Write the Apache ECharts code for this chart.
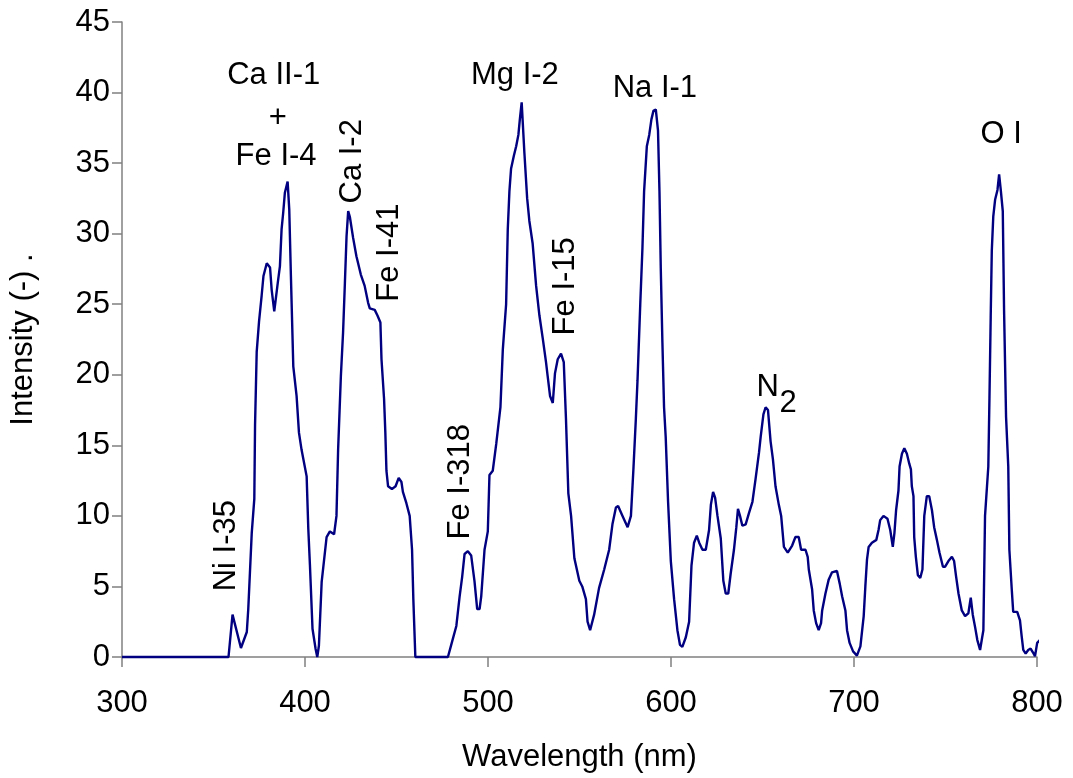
<!DOCTYPE html>
<html><head><meta charset="utf-8">
<script src="https://cdn.jsdelivr.net/npm/echarts@6/dist/echarts.min.js"></script>
<style>html,body{margin:0;padding:0;background:#fff}#c{width:1073px;height:778px}</style>
</head><body><div id="c"></div>
<script>
const wavelength = [300,358.2,360.4,365.0,368.2,369.0,370.9,372.3,372.7,373.6,374.9,376.3,377.3,379.1,380.9,381.8,383.2,385.1,386.3,387.2,388.1,389.0,390.5,391.4,392.3,393.6,395.4,396.7,398.1,400.9,401.8,402.7,404.1,405.8,406.7,407.6,409.1,411.8,413.6,415.9,417.2,418.1,419.6,420.8,421.8,422.7,423.6,424.5,426.3,428.1,430.5,432.6,434.5,435.4,438.1,439.6,441.2,441.8,443.2,443.9,444.5,445.4,447.5,449.5,451.2,452.7,453.5,455.4,457.2,458.5,459.2,460.3,478.1,479.9,482.7,484.5,485.9,487.2,489.0,490.8,492.6,494.1,495.4,496.3,498.1,499.9,500.8,502.6,504.5,506.8,508.1,509.9,510.8,511.7,512.6,514.1,515.4,516.6,517.4,518.4,519.9,521.4,522.6,524.4,526.3,528.1,529.9,531.7,532.6,533.9,535.4,536.6,538.1,539.9,541.4,542.6,543.9,545.4,547.2,549.9,551.5,553.5,554.4,555.8,558.0,560.7,563.5,566.2,568.0,569.9,571.1,573.5,576.3,578.1,579.5,580.8,581.7,583.2,584.4,585.3,586.8,588.1,589.3,590.4,591.7,592.9,593.7,594.4,595.3,596.2,597.1,598.4,599.9,601.7,603.5,604.9,606.2,608.1,609.9,611.2,612.6,614.1,615.4,617.2,619.0,620.8,621.8,623.0,624.1,625.4,627.2,628.6,629.9,631.3,632.6,634.4,635.7,636.6,637.7,639.0,640.8,642.6,644.5,646.2,648.1,649.0,650.5,651.7,653.0,654.4,655.7,657.1,658.9,660.2,661.7,663.8,666.2,668.0,669.8,671.1,673.5,674.7,675.3,677.1,678.0,679.3,680.7,682.0,682.6,684.4,686.2,688.0,690.7,692.2,693.5,695.3,696.2,697.6,699.5,701.6,703.5,705.3,706.2,707.1,708.0,709.8,712.2,713.4,714.3,716.1,718.3,719.8,721.2,722.1,723.0,724.3,724.9,726.2,727.5,728.9,730.2,731.1,731.6,732.5,732.9,733.8,734.9,736.2,737.4,738.4,739.8,741.1,742.6,743.8,745.3,746.7,748.6,749.8,751.6,753.5,754.7,755.8,757.1,758.9,760.7,762.5,763.8,764.9,766.2,767.4,768.9,769.8,770.7,771.6,773.4,774.0,774.7,775.3,776.1,777.1,778.4,779.3,780.2,781.3,782.0,783.1,784.3,784.9,786.2,787.0,789.2,790.7,791.6,792.5,793.8,795.2,796.5,797.9,798.9,800.1,801.6];
const intensity = [0,0,3.0,0.64,1.77,3.4,8.8,11.2,16.4,21.6,23.8,25.6,27.0,27.9,27.6,26.0,24.5,26.5,27.7,30.3,31.5,32.9,33.7,31.7,27.0,20.6,18.5,15.9,14.7,12.8,9.1,6.5,2.0,0.57,0,0.8,5.3,8.5,8.9,8.7,10.0,14.7,19.9,23.0,26.5,29.8,31.6,31.2,29.7,28.4,27.1,26.3,25.1,24.7,24.6,24.2,23.7,21.1,18.3,15.9,13.2,12.1,11.9,12.1,12.7,12.4,11.7,10.9,10.0,7.6,4.1,0,0,0.86,2.2,4.3,5.7,7.3,7.5,7.2,5.4,3.4,3.4,4.3,7.6,8.9,12.9,13.2,15.1,17.7,21.8,25.0,30.3,33.0,34.6,35.5,36.2,37.0,38.1,39.3,35.7,32.5,30.9,29.3,26.3,24.2,22.6,20.9,19.9,18.5,18.0,20.1,21.1,21.5,20.9,16.9,11.6,10.0,7.0,5.4,5.0,4.1,2.5,1.9,3.0,4.9,6.2,7.6,9.4,10.6,10.7,10.0,9.2,10.0,13.4,16.9,19.6,25.0,29.0,33.0,36.2,37.0,38.1,38.7,38.8,37.3,33.0,27.6,22.3,17.7,15.6,11.0,6.8,4.1,1.9,0.86,0.72,1.4,2.5,6.5,8.1,8.6,8.1,7.6,7.6,9.0,10.8,11.7,11.3,10.0,8.4,5.4,4.5,4.5,5.9,7.6,9.2,10.5,10.0,9.3,9.4,10.2,11.0,12.6,14.5,15.6,17.2,17.7,17.5,15.3,14.0,12.1,10.8,10.0,7.8,7.4,7.9,8.5,8.5,7.6,7.6,7.1,6.2,4.8,3.3,2.4,1.9,2.4,3.3,4.5,5.5,6.0,6.1,5.2,4.3,3.3,1.9,1.0,0.4,0.1,0.75,2.9,5.0,6.9,7.8,8.1,8.3,9.0,9.7,10.0,9.8,9.0,7.8,8.8,10.4,11.8,13.5,14.4,14.8,14.4,13.7,13.3,12.1,11.4,8.5,7.1,5.8,5.6,6.2,10.0,11.4,11.4,10.4,9.2,8.3,7.4,6.4,6.4,6.8,7.1,6.8,5.7,4.5,3.3,2.9,3.1,4.2,3.0,2.1,1.2,0.5,1.2,1.9,10.0,13.5,18.2,24.1,28.8,31.2,32.4,33.1,34.2,33.1,31.6,24.6,17.0,13.5,7.6,4.8,3.2,3.2,2.6,1.5,0.5,0.24,0.5,0.6,0.3,0.05,1.0,1.2];
const xTicks = [300,400,500,600,700,800];
const yTicks = [0,5,10,15,20,25,30,35,40,45];
// annotation anchors in data coordinates (wavelength, intensity), rotation in degrees
const annotations = [
  {text:'Ca II-1', wl:382.9, val:41.18, rot:0},
  {text:'+', wl:385.1, val:38.2, rot:0},
  {text:'Fe I-4', wl:384.2, val:35.45, rot:0},
  {text:'Ca I-2', wl:425.7, val:35.13, rot:90},
  {text:'Fe I-41', wl:445.9, val:28.66, rot:90},
  {text:'Ni I-35', wl:357.3, val:7.89, rot:90},
  {text:'Fe I-318', wl:484.8, val:12.42, rot:90},
  {text:'Mg I-2', wl:514.7, val:41.18, rot:0},
  {text:'Fe I-15', wl:542.1, val:26.27, rot:90},
  {text:'Na I-1', wl:591.2, val:40.28, rot:0},
  {text:'N', wl:652.8, val:19.1, rot:0},
  {text:'2', wl:664.0, val:18.0, rot:0},
  {text:'O I', wl:780.4, val:37.0, rot:0}
];

const FONT = "'Liberation Sans', Arial, sans-serif";
const FS = 31;
const chart = echarts.init(document.getElementById('c'));
const pts = wavelength.map((w, i) => [w, intensity[i]]);
chart.setOption({
  animation: false,
  backgroundColor: '#fff',
  grid: {left: 120, right: 36, top: 22, bottom: 120, containLabel: false},
  xAxis: {
    type: 'value', min: xTicks[0], max: xTicks[xTicks.length-1], interval: xTicks[1]-xTicks[0],
    name: 'Wavelength (nm)', nameLocation: 'middle', nameGap: 85,
    nameTextStyle: {fontFamily: FONT, fontSize: FS, color: '#000'},
    axisLine: {onZero: false, lineStyle: {color: '#808080', width: 1.5}},
    axisTick: {length: 10, lineStyle: {color: '#808080', width: 1.5}},
    axisLabel: {margin: 31, fontFamily: FONT, fontSize: FS, color: '#000'},
    splitLine: {show: false}
  },
  yAxis: {
    type: 'value', min: yTicks[0], max: yTicks[yTicks.length-1], interval: yTicks[1]-yTicks[0],
    name: 'Intensity (-) .', nameLocation: 'middle', nameGap: 83, nameRotate: 90,
    nameTextStyle: {fontFamily: FONT, fontSize: FS, color: '#000'},
    axisLine: {show: true, lineStyle: {color: '#808080', width: 1.5}},
    axisTick: {show: true, length: 10, lineStyle: {color: '#808080', width: 1.5}},
    axisLabel: {margin: 12, fontFamily: FONT, fontSize: FS, color: '#000'},
    splitLine: {show: false}
  },
  series: [{
    type: 'line', data: pts, showSymbol: false, symbol: 'none', clip: false,
    lineStyle: {color: '#000080', width: 2.4}
  }]
});
const g = annotations.map(a => {
  const p = chart.convertToPixel({gridIndex: 0}, [a.wl, a.val]);
  return {type: 'text', x: p[0], y: p[1], rotation: a.rot * Math.PI / 180,
    style: {text: a.text, fontFamily: FONT, fontSize: FS, fill: '#000', align: 'center', verticalAlign: 'middle'}};
});
chart.setOption({graphic: g});
</script></body></html>
